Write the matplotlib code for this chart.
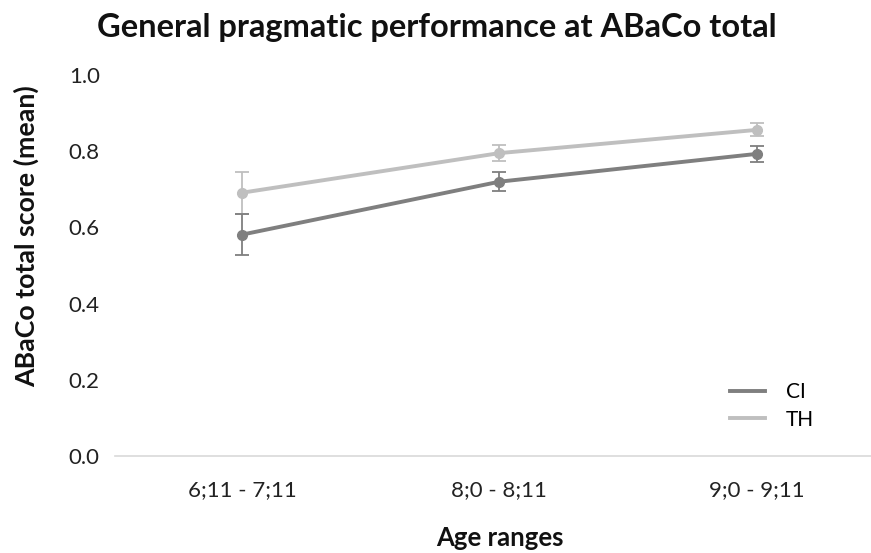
import matplotlib
matplotlib.use("Agg")
import matplotlib.pyplot as plt
from matplotlib.lines import Line2D

categories = ["6;11 - 7;11", "8;0 - 8;11", "9;0 - 9;11"]
ci_mean = [0.581, 0.720, 0.793]
ci_err = [0.053, 0.025, 0.021]
th_mean = [0.691, 0.795, 0.856]
th_err = [0.055, 0.022, 0.017]
yticks = [0.0, 0.2, 0.4, 0.6, 0.8, 1.0]

plt.rcParams['font.family'] = ['Lato', 'DejaVu Sans']

W, H = 871, 553
fig = plt.figure(figsize=(W/100, H/100), dpi=100)
ax = fig.add_axes([115/W, (H-456)/H, (871-115)/W, (456-75)/H])

x = list(range(len(categories)))
ax.errorbar(x, ci_mean, yerr=ci_err, color="#7f7f7f", lw=2.8, marker="o", ms=7,
            capsize=5, elinewidth=1.3, capthick=1.3, label="CI", zorder=3)
ax.errorbar(x, th_mean, yerr=th_err, color="#bfbfbf", lw=2.8, marker="o", ms=7,
            capsize=5, elinewidth=1.3, capthick=1.3, label="TH", zorder=2)

ax.set_xlim(-0.493, 2.443)
ax.set_ylim(0, 1.0)
ax.set_yticks(yticks)
ax.set_yticklabels([f"{v:.1f}" for v in yticks])
ax.set_xticks(x)
ax.set_xticklabels(categories)
for s in ["top", "right", "left"]:
    ax.spines[s].set_visible(False)
ax.spines["bottom"].set_color("#d9d9d9")
ax.spines["bottom"].set_linewidth(1.2)
ax.tick_params(axis="both", length=0, labelsize=16, colors="#404040", labelcolor="#222222")
ax.tick_params(axis="y", pad=11)
ax.tick_params(axis="x", pad=17)

fig.text(437/W, 1-28/H, "General pragmatic performance at ABaCo total", ha="center", va="center",
         fontsize=23.5, fontweight="bold", color="#111111")
fig.text(500/W, 1-538/H, "Age ranges", ha="center", va="center", fontsize=18.5, fontweight="bold", color="#111111")
fig.text(26/W, 1-236/H, "ABaCo total score (mean)", ha="center", va="center", rotation=90,
         fontsize=19.3, fontweight="bold", color="#111111")

handles = [Line2D([], [], color="#7f7f7f", lw=2.8), Line2D([], [], color="#bfbfbf", lw=2.8)]
leg = ax.legend(handles, ["CI", "TH"], loc="center", bbox_to_anchor=((772-115)/756, (456-406)/381),
                frameon=False, fontsize=15, handlelength=1.7, labelspacing=0.35, handletextpad=1.0)

fig.savefig("out.png", dpi=100)
